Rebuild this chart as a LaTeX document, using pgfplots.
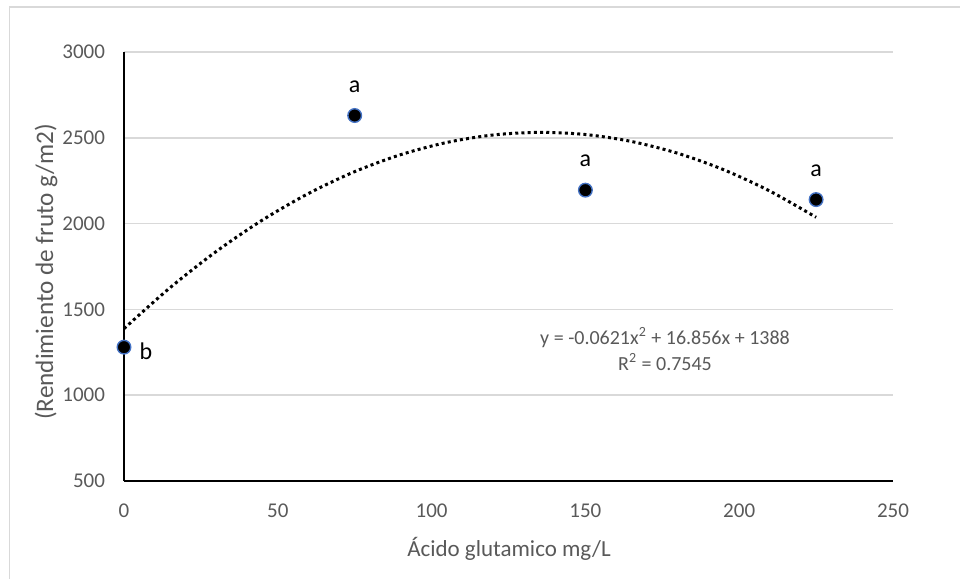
\documentclass[border=0pt]{standalone}
\usepackage{fontspec}
\setmainfont{Carlito}
\usepackage{pgfplots}
\pgfplotsset{compat=1.18}
\definecolor{txtgray}{HTML}{595959}
\definecolor{gridgray}{HTML}{D9D9D9}
\definecolor{mkblue}{HTML}{4472C4}
\begin{document}
\begin{tikzpicture}
\useasboundingbox (0,0) rectangle (480pt,-289.5pt);
\draw[gridgray, line width=0.9pt] (4.75pt,-289.5pt) -- (4.75pt,-3.5pt) -- (480pt,-3.5pt);
\begin{axis}[
    at={(62pt,-240.5pt)}, anchor=south west,
    scale only axis,
    width=384.5pt, height=214.5pt,
    xmin=0, xmax=250, ymin=500, ymax=3000,
    xtick={0,50,100,150,200,250},
    ytick={500,1000,1500,2000,2500,3000},
    axis x line*=bottom, axis y line*=left,
    axis line style={black, line width=0.6pt, -},
    ymajorgrids=true,
    major grid style={gridgray, line width=0.8pt},
    major tick length=0pt,
    tick style={draw=none},
    /pgf/number format/assume math mode=true,
    /pgf/number format/1000 sep={},
    ticklabel style={font=\fontsize{10.5}{12}\selectfont, text=txtgray},
    xticklabel style={yshift=-8pt},
    yticklabel style={xshift=-6pt},
    clip=false,
  ]
  % trendline y = -0.0621x^2 + 16.856x + 1388
  \addplot[black, line width=1.5pt, dash pattern=on 1.5pt off 1.6pt, smooth, no markers] coordinates {
    (0,1388) (15,1626.9) (30,1837.8) (45,2020.8) (60,2175.8) (75,2302.9)
    (90,2402.0) (105,2473.2) (120,2516.5) (135,2531.8) (150,2519.2)
    (165,2478.6) (180,2410.0) (195,2313.6) (210,2189.2) (225,2036.8)};
  \addplot[only marks, mark=*, mark size=3.4pt,
    mark options={fill=black, draw=mkblue, line width=0.7pt},
    nodes near coords, point meta=explicit symbolic,
    every node near coord/.style={anchor=center, yshift=14.5pt, font=\fontsize{12}{14}\selectfont, text=black}]
    coordinates {(75,2630)[a] (150,2195)[a] (225,2140)[a]};
  \addplot[only marks, mark=*, mark size=3.4pt,
    mark options={fill=black, draw=mkblue, line width=0.7pt},
    nodes near coords, point meta=explicit symbolic,
    every node near coord/.style={anchor=center, xshift=11pt, yshift=-2pt, font=\fontsize{12}{14}\selectfont, text=black}]
    coordinates {(0,1280)[b]};
\end{axis}
\node[text=txtgray, font=\fontsize{10}{12}\selectfont, align=center] at (332.5pt,-174.5pt)
  {y = -0.0621x\textsuperscript{2} + 16.856x + 1388\\[1pt] R\textsuperscript{2} = 0.7545};
\node[text=txtgray, font=\fontsize{11.5}{13}\selectfont] at (254.5pt,-274.5pt) {Ácido glutamico mg/L};
\node[text=txtgray, font=\fontsize{12.6}{14}\selectfont, rotate=90] at (23pt,-136pt) {(Rendimiento de fruto g/m2)};
\end{tikzpicture}
\end{document}
